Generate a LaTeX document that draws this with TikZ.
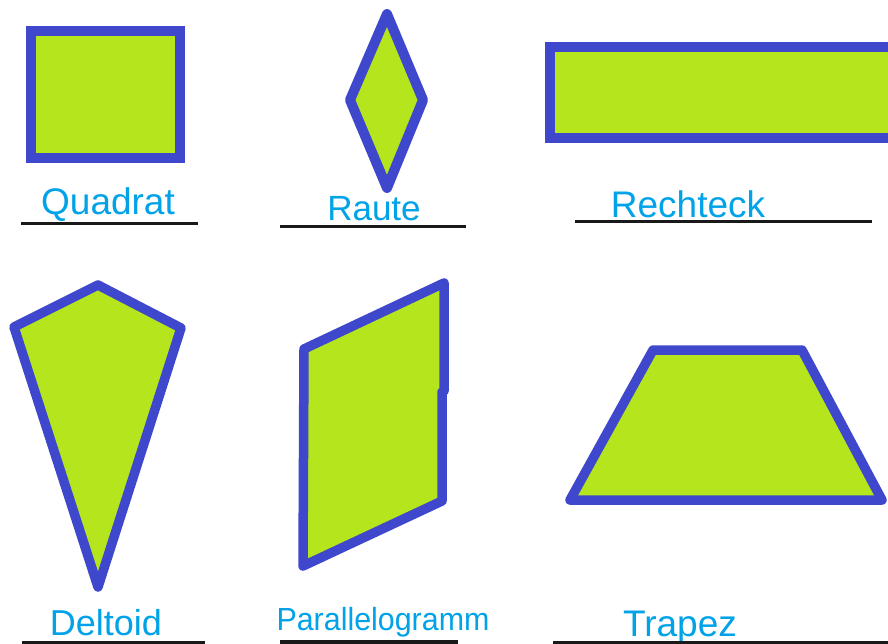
\documentclass[tikz,border=0pt]{standalone}
\usepackage{fontspec}
\setmainfont{Liberation Sans}
\definecolor{edgeblue}{HTML}{3F48CC}
\definecolor{limefill}{HTML}{B5E61D}
\definecolor{labelblue}{HTML}{00A2E8}
\begin{document}
\begin{tikzpicture}[x=1pt,y=-1pt,
  figshape/.style={draw=edgeblue,fill=limefill,line width=9.5pt},
  roundshape/.style={figshape,line join=round,line cap=round},
  lbl/.style={text=labelblue,anchor=base,inner sep=0pt,font=\fontsize{36}{36}\selectfont},
  uline/.style={draw=black!90,line width=3pt}]
\useasboundingbox (0,0) rectangle (888,643);
\clip (0,0) rectangle (888,643);
\fill[white] (0,0) rectangle (888,643);
% Quadrat
\path[figshape] (31,31) rectangle (180,158);
% Raute
\path[roundshape,line width=10pt] (387,14) -- (423,100) -- (387,188) -- (350,100) -- cycle;
% Rechteck
\path[figshape] (550,47) rectangle (900,138);
% Deltoid
\path[roundshape] (98,285) -- (181,328) -- (98,587) -- (14,327) -- cycle;
% Parallelogramm
\path[roundshape] (304,349) -- (444,283) -- (444,391) -- (442,392) -- (442,501) -- (303,566) -- cycle;
% Trapez
\path[roundshape] (653,350) -- (802,350) -- (882,500) -- (570,500) -- cycle;
% labels
\node[lbl,font=\fontsize{37}{37}\selectfont] (quadrat) at (108,214) {Quadrat};
\node[lbl,font=\fontsize{35}{35}\selectfont] (raute) at (374,220) {Raute};
\node[lbl,font=\fontsize{37}{37}\selectfont] (rechteck) at (688,217) {Rechteck};
\node[lbl,font=\fontsize{36}{36}\selectfont] (deltoid) at (106,635) {Deltoid};
\node[lbl,font=\fontsize{32}{32}\selectfont,xscale=0.95] (para) at (383,630) {Parallelogramm};
\node[lbl,font=\fontsize{37}{37}\selectfont] (trapez) at (680,636) {Trapez};
% underlines
\path[uline] (21,223) -- (198,223);
\path[uline] (280,226) -- (466,226);
\path[uline] (575,221) -- (872,221);
\path[uline] (22,642) -- (205,642);
\path[uline,line width=4pt] (280,642) -- (458,642);
\path[uline] (553,642) -- (888,642);
\end{tikzpicture}
\end{document}
